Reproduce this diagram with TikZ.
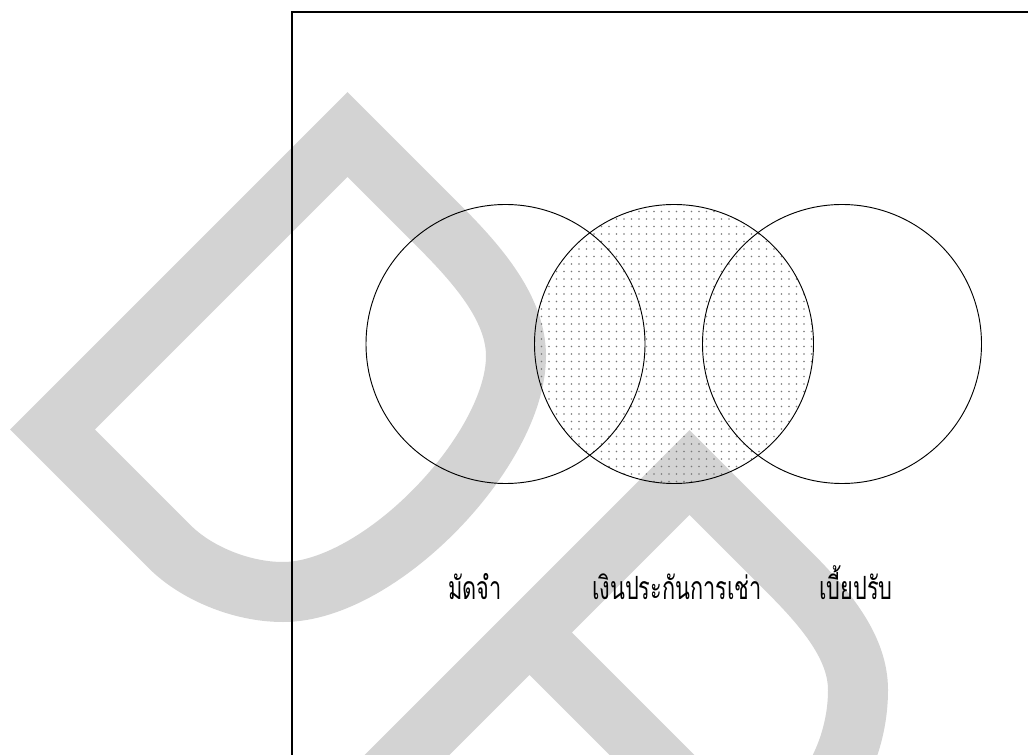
\documentclass[tikz,border=0pt]{standalone}
\usepackage{fontspec}
\newfontfamily\thaifont[Script=Thai,FakeStretch=0.68]{Loma}
\definecolor{wmgray}{RGB}{211,211,211}
\definecolor{dotgray}{RGB}{120,120,120}
\tikzset{
  wmark/.style={draw=wmgray, line width=45pt, line join=miter, line cap=butt},
  venn/.style={draw=black, line width=0.7pt},
  frameline/.style={draw=black, line width=1.2pt},
  label/.style={font=\thaifont\fontsize{24}{28}\selectfont, anchor=base, inner sep=0pt}
}
\begin{document}
\begin{tikzpicture}[x=0.75pt,y=-0.75pt]
\useasboundingbox (0,0) rectangle (1028,755);
\fill[white] (0,0) rectangle (1028,755);
\begin{scope}
\clip (0,0) rectangle (1028,755);
% watermark D
\draw[wmark] (52.5,429.5) -- (347.5,134.5) -- (440,227)
  .. controls (480,267) and (516,310) .. (516,356)
  .. controls (516,450) and (380,592) .. (283,592)
  .. controls (240,592) and (195,572) .. (170,547) -- cycle;
% watermark P
\draw[wmark] (342,820) -- (689.5,472.5) -- (790,573)
  .. controls (830,613) and (858,650) .. (858,690)
  .. controls (858,790) and (770,873) .. (720,823) -- (529.5,632.5);
% coordinates of the circles
\coordinate (cL) at (505.5,344);
\coordinate (cM) at (674,344);
\coordinate (cR) at (842,344);
% dotted fill of middle circle
\begin{scope}
\clip (cM) circle[radius=139.5];
\foreach \i in {0,...,38}{
  \foreach \j in {0,...,38}{
    \fill[dotgray] (534+\i*7.5,204+\j*7.5) circle[radius=0.9];
  }
}
\end{scope}
\draw[venn] (cL) circle[radius=139.5];
\draw[venn] (cM) circle[radius=139.5];
\draw[venn] (cR) circle[radius=139.5];
% frame
\coordinate (fc) at (292,12);
\coordinate (fr) at (1040,12);
\coordinate (fb) at (292,770);
\draw[frameline] (fr) -- (fc) -- (fb);
\end{scope}
\node[label] (t1) at (475,599) {มัดจำ};
\node[label] (t2) at (677,599) {เงินประกันการเช่า};
\node[label] (t3) at (856,599) {เบี้ยปรับ};
\end{tikzpicture}
\end{document}
